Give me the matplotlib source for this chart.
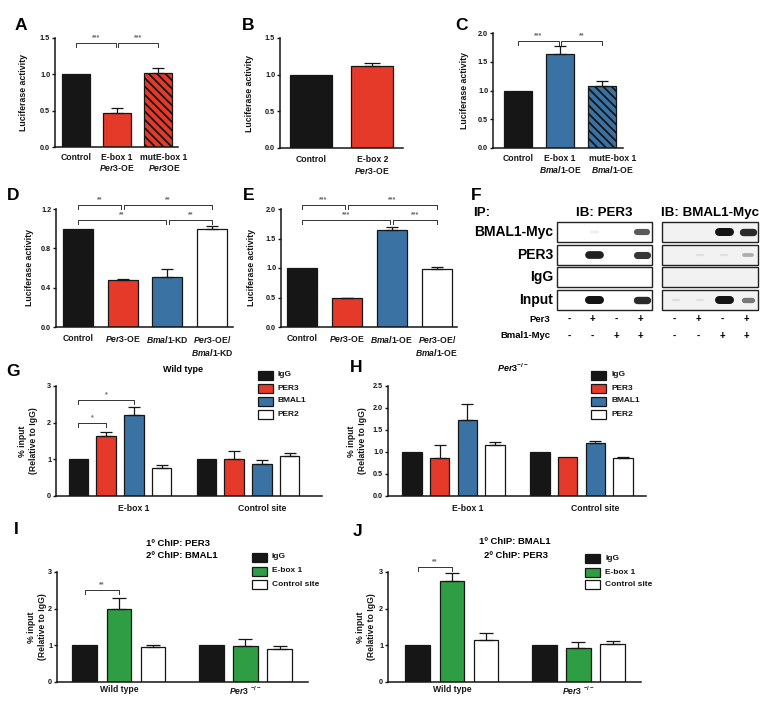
import numpy as np
import matplotlib
matplotlib.use('Agg')
from matplotlib import pyplot as plt
from matplotlib.patches import Rectangle

plt.rcParams['font.family'] = ['Liberation Sans', 'DejaVu Sans']
plt.rcParams['font.weight'] = 'bold'
plt.rcParams['mathtext.fontset'] = 'custom'
plt.rcParams['mathtext.rm'] = 'Liberation Sans:bold'
plt.rcParams['mathtext.it'] = 'Liberation Sans:italic:bold'
plt.rcParams['mathtext.bf'] = 'Liberation Sans:bold'
plt.rcParams['hatch.linewidth'] = 1.3

# ---------------- data ----------------
a_labels = ['Control', 'E-box 1\n$\\mathit{Per3}$-OE', 'mutE-box 1\n$\\mathit{Per3}$OE']
a_vals = [1.0, 0.47, 1.02]
a_errs = [0, 0.07, 0.07]

b_labels = ['Control', 'E-box 2\n$\\mathit{Per3}$-OE']
b_vals = [1.0, 1.12]
b_errs = [0, 0.04]

c_labels = ['Control', 'E-box 1\n$\\mathit{Bmal1}$-OE', 'mutE-box 1\n$\\mathit{Bmal1}$-OE']
c_vals = [1.0, 1.63, 1.08]
c_errs = [0, 0.14, 0.09]

d_labels = ['Control', '$\\mathit{Per3}$-OE', '$\\mathit{Bmal1}$-KD', '$\\mathit{Per3}$-OE/\n$\\mathit{Bmal1}$-KD']
d_vals = [1.0, 0.48, 0.51, 1.0]
d_errs = [0, 0.01, 0.08, 0.03]

e_labels = ['Control', '$\\mathit{Per3}$-OE', '$\\mathit{Bmal1}$-OE', '$\\mathit{Per3}$-OE/\n$\\mathit{Bmal1}$-OE']
e_vals = [1.0, 0.49, 1.64, 0.98]
e_errs = [0, 0.01, 0.06, 0.04]

chip_sites = ['E-box 1', 'Control site']
chip_series = ['IgG', 'PER3', 'BMAL1', 'PER2']
g_vals = [[1.0, 1.0], [1.63, 1.01], [2.21, 0.87], [0.77, 1.10]]
g_errs = [[0, 0], [0.12, 0.21], [0.22, 0.12], [0.07, 0.08]]
h_vals = [[1.0, 1.0], [0.87, 0.89], [1.73, 1.20], [1.17, 0.86]]
h_errs = [[0, 0], [0.30, 0], [0.37, 0.05], [0.06, 0.03]]

seq_groups = ['Wild type', '$\\mathit{Per3}$ $^{-/-}$']
seq_series = ['IgG', 'E-box 1', 'Control site']
i_vals = [[1.0, 1.0], [1.99, 0.98], [0.95, 0.89]]
i_errs = [[0, 0], [0.30, 0.18], [0.06, 0.10]]
j_vals = [[1.0, 1.0], [2.75, 0.93], [1.14, 1.03]]
j_errs = [[0, 0], [0.21, 0.16], [0.20, 0.08]]

blot_rows = ['BMAL1-Myc', 'PER3', 'IgG', 'Input']
blot_titles = ['IB: PER3', 'IB: BMAL1-Myc']
per3_signs = ['-', '+', '-', '+']
bmal_signs = ['-', '-', '+', '+']
bands_ib_per3 = [[0, 0.08, 0, 0.7], [0, 0.95, 0, 0.85], [0, 0, 0, 0], [0, 1.0, 0, 0.9]]
bands_ib_bmal = [[0, 0, 1.0, 0.9], [0, 0.04, 0.04, 0.3], [0, 0, 0, 0], [0.08, 0.04, 1.0, 0.55]]

# ---------------- style ----------------
BLACK = '#161616'
RED = '#e53a2a'
BLUE = '#3a72a4'
GREEN = '#2f9d44'
WHITE = '#ffffff'

W, H = 781, 717
fig = plt.figure(figsize=(W / 100, H / 100), dpi=100)
fig.patch.set_facecolor('white')

ov = fig.add_axes([0, 0, 1, 1])
ov.set_xlim(0, W)
ov.set_ylim(H, 0)
ov.axis('off')


def ax_px(left, top, right, bottom):
    ax = fig.add_axes([left / W, 1 - bottom / H, (right - left) / W, (bottom - top) / H])
    for s in ['top', 'right']:
        ax.spines[s].set_visible(False)
    for s in ['left', 'bottom']:
        ax.spines[s].set_linewidth(1.1)
        ax.spines[s].set_color(BLACK)
    ax.tick_params(axis='y', length=2.5, width=1.0, pad=1, labelsize=5.2, colors=BLACK)
    ax.tick_params(axis='x', length=0, labelsize=6.2, colors=BLACK)
    ax.patch.set_alpha(0)
    ax.px = (left, top, right, bottom)
    return ax


def draw_bars(ax, x, vals, errs, colors, hatches=None, width=0.68, cap=4.5):
    for i in range(len(x)):
        ax.bar(x[i], vals[i], width, color=colors[i], edgecolor=BLACK, linewidth=0.9,
               hatch=hatches[i] if hatches else None, zorder=2)
        if errs[i] > 0:
            ax.errorbar(x[i], vals[i], yerr=[[0], [errs[i]]], fmt='none', ecolor=BLACK,
                        elinewidth=0.9, capsize=cap, capthick=0.9, zorder=3)


def bracket(ax, x1, x2, y, label, drop_px=4):
    l, t, r, b = ax.px
    y0, y1 = ax.get_ylim()
    d = drop_px / (b - t) * (y1 - y0)
    ax.plot([x1, x1, x2, x2], [y - d, y, y, y - d], color='#333333', lw=0.7, clip_on=False)
    ax.text((x1 + x2) / 2, y + d * 0.4, label, ha='center', va='bottom', fontsize=5,
            color='#666666', clip_on=False)


def ylab(ax, text, xpx, size=6.3):
    l, t, r, b = ax.px
    fig.text(xpx / W, 1 - (t + b) / 2 / H, text, rotation=90, ha='center', va='center',
             fontsize=size, fontweight='bold', multialignment='center', color=BLACK)


def letter(x, y, s):
    fig.text(x / W, 1 - y / H, s, fontsize=12.5, fontweight='bold', ha='center', va='center')


def legend_px(x, ys, labels, colors, w=15, h=9, size=6):
    for k in range(len(labels)):
        ov.add_patch(Rectangle((x, ys[k] - h / 2), w, h, facecolor=colors[k], edgecolor=BLACK, lw=0.9))
        ov.text(x + w + 5, ys[k], labels[k], ha='left', va='center', fontsize=size, color=BLACK)


# ---------------- A ----------------
ax = ax_px(55, 38, 178, 147)
x = np.arange(len(a_vals))
draw_bars(ax, x, a_vals, a_errs, [BLACK, RED, RED], [None, None, '\\\\\\\\'])
ax.set_xlim(-0.51, 2.49)
ax.set_ylim(0, 1.5)
ax.set_yticks([0, 0.5, 1.0, 1.5])
ax.set_yticklabels(['0.0', '0.5', '1.0', '1.5'])
ax.set_xticks(x + np.array([0, 0, 0.15]))
ax.set_xticklabels(a_labels)
ax.tick_params(axis='x', pad=4)
bracket(ax, 0, 0.97, 1.43, '***')
bracket(ax, 1.03, 2, 1.43, '***')
ylab(ax, 'Luciferase activity', 24)
letter(21, 26, 'A')

# ---------------- B ----------------
ax = ax_px(280, 38, 403, 148)
x = np.arange(len(b_vals))
draw_bars(ax, x, b_vals, b_errs, [BLACK, RED], width=0.68, cap=6)
ax.set_xlim(-0.5, 1.5)
ax.set_ylim(0, 1.5)
ax.set_yticks([0, 0.5, 1.0, 1.5])
ax.set_yticklabels(['0.0', '0.5', '1.0', '1.5'])
ax.set_xticks(x)
ax.set_xticklabels(b_labels)
ax.tick_params(axis='x', pad=5)
ylab(ax, 'Luciferase activity', 249)
letter(248, 26, 'B')

# ---------------- C ----------------
ax = ax_px(493, 33, 623, 148)
x = np.arange(len(c_vals))
draw_bars(ax, x, c_vals, c_errs, [BLACK, BLUE, BLUE], [None, None, '\\\\\\\\'])
ax.set_xlim(-0.6, 2.5)
ax.set_ylim(0, 2.0)
ax.set_yticks([0, 0.5, 1.0, 1.5, 2.0])
ax.set_yticklabels(['0.0', '0.5', '1.0', '1.5', '2.0'])
ax.set_xticks(x + np.array([0, 0, 0.26]))
ax.set_xticklabels(c_labels)
ax.tick_params(axis='x', pad=4)
bracket(ax, 0, 0.97, 1.86, '***')
bracket(ax, 1.03, 2, 1.86, '**')
ylab(ax, 'Luciferase activity', 464)
letter(462, 26, 'C')

# ---------------- D ----------------
ax = ax_px(56, 209, 233, 327)
x = np.arange(len(d_vals))
draw_bars(ax, x, d_vals, d_errs, [BLACK, RED, BLUE, WHITE], width=0.67)
ax.set_xlim(-0.49, 3.47)
ax.set_ylim(0, 1.2)
ax.set_yticks([0, 0.4, 0.8, 1.2])
ax.set_yticklabels(['0.0', '0.4', '0.8', '1.2'])
ax.set_xticks(x)
ax.set_xticklabels(d_labels)
ax.tick_params(axis='x', pad=5)
bracket(ax, 0, 0.97, 1.24, '**')
bracket(ax, 1.03, 3, 1.24, '**')
bracket(ax, 0, 1.97, 1.09, '**')
bracket(ax, 2.03, 3, 1.09, '**')
ylab(ax, 'Luciferase activity', 30)
letter(13, 195, 'D')

# ---------------- E ----------------
ax = ax_px(281, 209, 457, 327)
x = np.arange(len(e_vals))
draw_bars(ax, x, e_vals, e_errs, [BLACK, RED, BLUE, WHITE], width=0.67)
ax.set_xlim(-0.46, 3.45)
ax.set_ylim(0, 2.0)
ax.set_yticks([0, 0.5, 1.0, 1.5, 2.0])
ax.set_yticklabels(['0.0', '0.5', '1.0', '1.5', '2.0'])
ax.set_xticks(x)
ax.set_xticklabels(e_labels)
ax.tick_params(axis='x', pad=5)
bracket(ax, 0, 0.97, 2.07, '***')
bracket(ax, 1.03, 3, 2.07, '***')
bracket(ax, 0, 1.97, 1.81, '***')
bracket(ax, 2.03, 3, 1.81, '***')
ylab(ax, 'Luciferase activity', 252)
letter(249, 195, 'E')

# ---------------- F (western blot) ----------------
letter(476, 196, 'F')
box_x = [(557, 652), (662, 758)]
row_top, row_h, row_gap = 222, 20, 2.6
ov.text(473, 213, 'IP:', fontsize=9.6, ha='left', va='center')
for k, (bx0, bx1) in enumerate(box_x):
    ov.text((bx0 + bx1) / 2, 213, blot_titles[k], fontsize=9.6, ha='center', va='center')
bands_all = [bands_ib_per3, bands_ib_bmal]
for r, name in enumerate(blot_rows):
    ty = row_top + r * (row_h + row_gap)
    ov.text(553, ty + row_h / 2, name, fontsize=10, ha='right', va='center')
    for k, (bx0, bx1) in enumerate(box_x):
        ov.add_patch(Rectangle((bx0, ty), bx1 - bx0, row_h,
                               facecolor='#ffffff' if k == 0 else '#f2f2f2',
                               edgecolor='#222222', lw=1.0))
        lane_w = (bx1 - bx0) / 4
        for ln, v in enumerate(bands_all[k][r]):
            if v <= 0:
                continue
            cx = bx0 + lane_w * (ln + 0.5) + 2
            half = (6 + 5 * v) / 2
            thick_px = 2 + 6 * v
            ov.plot([cx - half, cx + half], [ty + row_h / 2, ty + row_h / 2],
                    color='#141414', lw=thick_px * 0.72, alpha=max(v, 0.08),
                    solid_capstyle='round')
sign_rows = [('Per3', per3_signs, 319), ('Bmal1-Myc', bmal_signs, 336)]
for name, signs, sy in sign_rows:
    ov.text(550, sy, name, fontsize=6.8, ha='right', va='center')
    for k, (bx0, bx1) in enumerate(box_x):
        lane_w = (bx1 - bx0) / 4
        for ln, s in enumerate(signs):
            ov.text(bx0 + lane_w * (ln + 0.5), sy, s, fontsize=7, ha='center', va='center')

# ---------------- G / H ----------------
chip_colors = [BLACK, RED, BLUE, WHITE]
g_off = [-1.5, -0.5, 0.5, 1.5]
g_grp = np.array([0, 4.62])


def chip_panel(box, vals, errs, ylim, yticks, yfmt, xl):
    ax = ax_px(*box)
    for s in range(len(chip_series)):
        draw_bars(ax, g_grp + g_off[s], vals[s], errs[s], [chip_colors[s]] * 2, width=0.7, cap=4)
    ax.set_xlim(*xl)
    ax.set_ylim(*ylim)
    ax.set_yticks(yticks)
    ax.set_yticklabels([yfmt.format(t) for t in yticks])
    ax.set_xticks(g_grp + 0.5)
    ax.set_xticklabels(chip_sites)
    ax.tick_params(axis='x', pad=6)
    return ax


ax = chip_panel((56, 386, 322, 496), g_vals, g_errs, (0, 3), [0, 1, 2, 3], '{:.0f}', (-2.31, 7.29))
bracket(ax, g_off[0], g_off[1], 2.0, '*')
bracket(ax, g_off[0], g_off[2], 2.61, '*')
ylab(ax, '% input\n(Relative to IgG)', 28, size=6.2)
letter(13, 372, 'G')
fig.text(183 / W, 1 - 370 / H, 'Wild type', fontsize=6.5, ha='center', va='center')
legend_px(258, [375, 388, 401, 414], chip_series, chip_colors)

ax = chip_panel((388, 386, 646, 496), h_vals, h_errs, (0, 2.5), [0, 0.5, 1.0, 1.5, 2.0, 2.5], '{:.1f}',
                (-2.36, 6.95))
ylab(ax, '% input\n(Relative to IgG)', 357, size=6.2)
letter(356, 368, 'H')
fig.text(513 / W, 1 - 368 / H, '$\\mathit{Per3}^{-/-}$', fontsize=6.5, ha='center', va='center')
legend_px(591, [375, 388, 401, 414], chip_series, chip_colors)

# ---------------- I / J ----------------
seq_colors = [BLACK, GREEN, WHITE]
s_off = [-1, 0, 1]
s_grp = np.array([0, 3.7])


def seq_panel(box, vals, errs, xl):
    ax = ax_px(*box)
    for s in range(len(seq_series)):
        draw_bars(ax, s_grp + s_off[s], vals[s], errs[s], [seq_colors[s]] * 2, width=0.72, cap=5)
    ax.set_xlim(*xl)
    ax.set_ylim(0, 3)
    ax.set_yticks([0, 1, 2, 3])
    ax.set_yticklabels(['0', '1', '2', '3'])
    ax.set_xticks(s_grp)
    ax.set_xticklabels(seq_groups)
    ax.tick_params(axis='x', pad=2)
    return ax


ax = seq_panel((57, 572, 308, 682), i_vals, i_errs, (-1.81, 5.53))
bracket(ax, s_off[0], s_off[1], 2.52, '**')
ylab(ax, '% input\n(Relative to IgG)', 37, size=6.2)
letter(16, 530, 'I')
fig.text(178 / W, 1 - 543 / H, '1º ChIP: PER3', fontsize=6.8, ha='center', va='center')
fig.text(182 / W, 1 - 556 / H, '2º ChIP: BMAL1', fontsize=6.8, ha='center', va='center')
legend_px(252, [557, 571, 584], seq_series, seq_colors)

ax = seq_panel((388, 572, 641, 682), j_vals, j_errs, (-1.87, 5.53))
bracket(ax, s_off[0], s_off[1], 3.14, '**')
ylab(ax, '% input\n(Relative to IgG)', 366, size=6.2)
letter(358, 532, 'J')
fig.text(515 / W, 1 - 541 / H, '1º ChIP: BMAL1', fontsize=6.8, ha='center', va='center')
fig.text(516 / W, 1 - 555 / H, '2º ChIP: PER3', fontsize=6.8, ha='center', va='center')
legend_px(585, [558, 572, 584], seq_series, seq_colors)

plt.savefig('out.png', dpi=100)
